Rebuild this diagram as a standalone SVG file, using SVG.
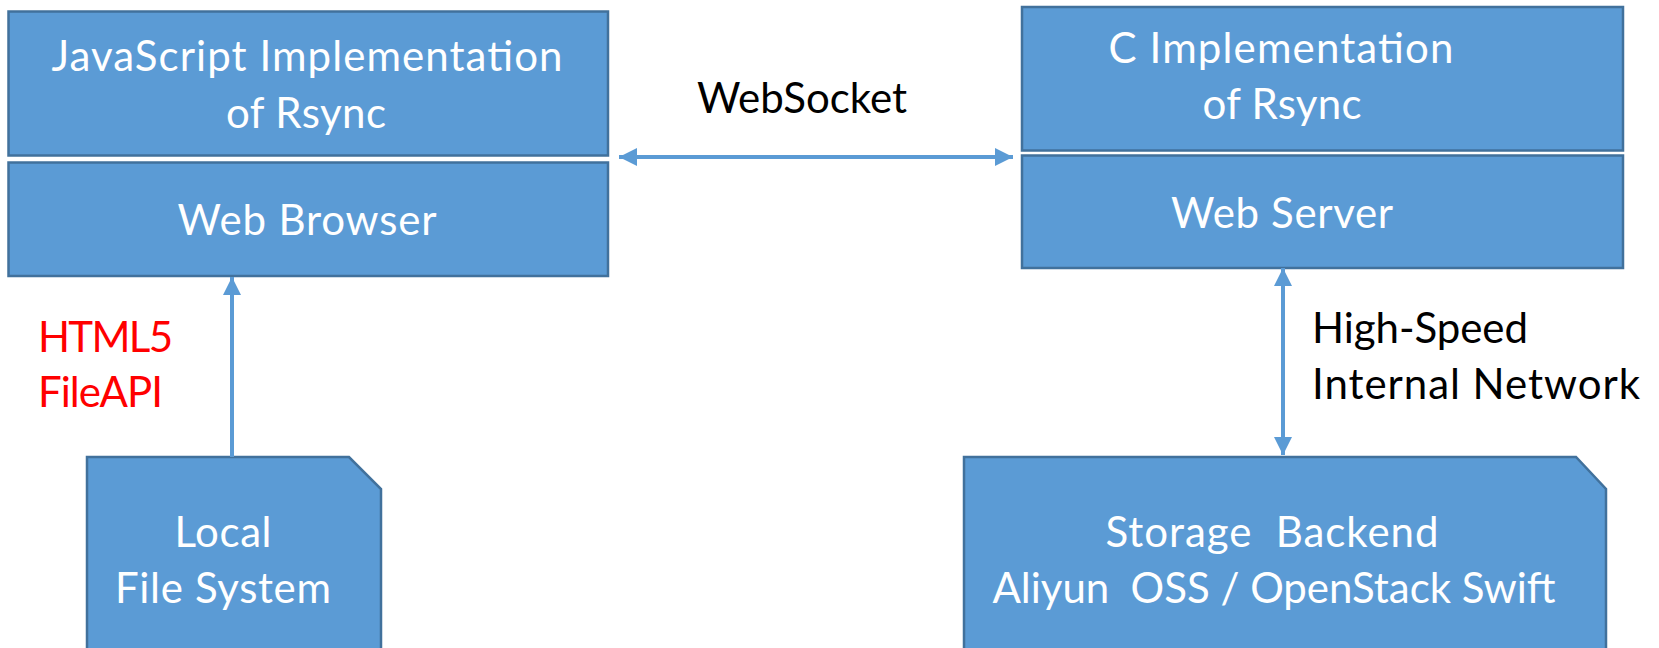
<svg xmlns="http://www.w3.org/2000/svg" width="1659" height="648" viewBox="0 0 1659 648">
<style>
.box{fill:#5B9BD5;stroke:#41719C;stroke-width:2.5}
.wt{font-family:Lato,"Liberation Sans",sans-serif;font-size:42px;fill:#FFFFFF;text-anchor:middle}
.bk{font-family:Lato,"Liberation Sans",sans-serif;font-size:42px;fill:#000000}
.rd{font-family:Lato,"Liberation Sans",sans-serif;font-size:42px;fill:#FF0000}
.conn{stroke:#5B9BD5;stroke-width:4;fill:none}
</style>
<defs>
<marker id="ah" markerUnits="userSpaceOnUse" markerWidth="18" markerHeight="18" refX="16" refY="8" orient="auto-start-reverse" viewBox="0 0 16 16">
<path d="M0,0 L16,8 L0,16 Z" fill="#5B9BD5"/>
</marker>
</defs>
<rect width="1659" height="648" fill="#FFFFFF"/>
<g id="js-rsync">
<rect class="box" x="8.5" y="11.5" width="599.5" height="144"/>
<text class="wt" x="307" y="71" textLength="511">JavaScript Implementation</text>
<text class="wt" x="306" y="128" textLength="160">of Rsync</text>
</g>
<g id="web-browser">
<rect class="box" x="8.5" y="162.5" width="599.5" height="113.5"/>
<text class="wt" x="307" y="235" textLength="259">Web Browser</text>
</g>
<g id="c-rsync">
<rect class="box" x="1022" y="7" width="601" height="143.5"/>
<text class="wt" x="1281" y="63" textLength="345">C Implementation</text>
<text class="wt" x="1282" y="119" textLength="159">of Rsync</text>
</g>
<g id="web-server">
<rect class="box" x="1022" y="155.5" width="601" height="112.5"/>
<text class="wt" x="1282" y="228" textLength="222">Web Server</text>
</g>
<g id="local-fs">
<path class="box" d="M87,457 L349,457 L381,489 L381,660 L87,660 Z"/>
<text class="wt" x="223" y="547" textLength="97">Local</text>
<text class="wt" x="223" y="603" textLength="216">File System</text>
</g>
<g id="storage">
<path class="box" d="M964,457 L1576,457 L1606,489 L1606,660 L964,660 Z"/>
<text class="wt" x="1272" y="547" textLength="333" xml:space="preserve">Storage  Backend</text>
<text class="wt" x="1274" y="603" textLength="563" xml:space="preserve">Aliyun  OSS / OpenStack Swift</text>
</g>
<g id="connectors">
<line class="conn" x1="619" y1="157" x2="1013" y2="157" marker-start="url(#ah)" marker-end="url(#ah)"/>
<line class="conn" x1="232" y1="457" x2="232" y2="277" marker-end="url(#ah)"/>
<line class="conn" x1="1283" y1="268" x2="1283" y2="455" marker-start="url(#ah)" marker-end="url(#ah)"/>
</g>
<g id="labels">
<text class="bk" x="697" y="113" textLength="210">WebSocket</text>
<text class="rd" x="38" y="352" textLength="135">HTML5</text>
<text class="rd" x="38" y="407" textLength="125">FileAPI</text>
<text class="bk" x="1312" y="343" textLength="216">High-Speed</text>
<text class="bk" x="1312" y="399" textLength="328">Internal Network</text>
</g>
</svg>
